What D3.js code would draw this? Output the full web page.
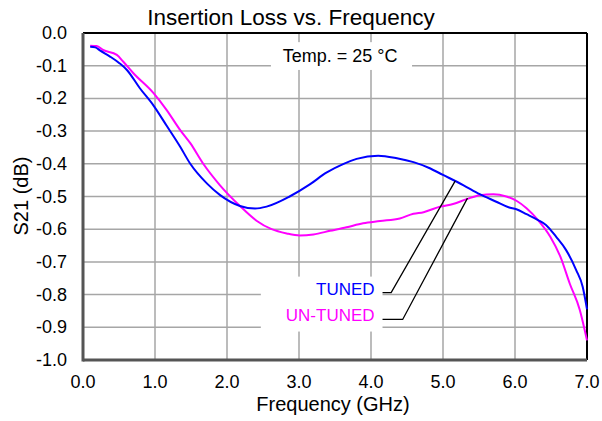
<!DOCTYPE html>
<html>
<head>
<meta charset="utf-8">
<script src="https://cdn.jsdelivr.net/npm/d3@7"></script>
<style>
  body { margin: 0; background: #fff; }
  svg { font-family: "Liberation Sans", Arial, sans-serif; }
</style>
</head>
<body>
<div id="chart"></div>
<script>
// Insertion loss (S21) against frequency

const tunedFreq = [0.1, 0.17, 0.24, 0.375, 0.51, 0.61, 0.79, 0.98, 1.16, 1.35, 1.49, 1.72, 1.9, 2.18, 2.39, 2.55, 2.87, 3.15, 3.38, 3.62, 3.8, 4.1, 4.36, 4.59, 4.8, 5.0, 5.28, 5.51, 5.74, 5.91, 6.02, 6.16, 6.32, 6.43, 6.57, 6.71, 6.85, 6.94, 7.0];
const tunedS21 = [-0.042, -0.044, -0.054, -0.072, -0.093, -0.113, -0.169, -0.222, -0.283, -0.348, -0.4, -0.46, -0.495, -0.529, -0.537, -0.531, -0.5, -0.463, -0.427, -0.4, -0.385, -0.375, -0.383, -0.395, -0.412, -0.434, -0.465, -0.493, -0.516, -0.533, -0.539, -0.554, -0.572, -0.587, -0.623, -0.664, -0.725, -0.776, -0.845];

const untunedFreq = [0.1, 0.19, 0.28, 0.47, 0.56, 0.7, 0.98, 1.16, 1.35, 1.49, 1.67, 1.9, 2.18, 2.41, 2.62, 2.83, 3.01, 3.2, 3.43, 3.66, 3.89, 4.125, 4.4, 4.59, 4.73, 4.96, 5.14, 5.33, 5.51, 5.7, 5.88, 6.02, 6.16, 6.32, 6.49, 6.63, 6.76, 6.9, 7.0];
const untunedS21 = [-0.039, -0.04, -0.052, -0.067, -0.088, -0.123, -0.184, -0.235, -0.297, -0.337, -0.4, -0.465, -0.529, -0.574, -0.6, -0.613, -0.619, -0.616, -0.605, -0.594, -0.582, -0.575, -0.567, -0.553, -0.548, -0.531, -0.523, -0.508, -0.496, -0.493, -0.5, -0.513, -0.536, -0.572, -0.623, -0.684, -0.766, -0.847, -0.94];

const xTicks = [0, 1, 2, 3, 4, 5, 6, 7];
const yTicks = [0, -0.1, -0.2, -0.3, -0.4, -0.5, -0.6, -0.7, -0.8, -0.9, -1.0];

// series labels: [text, colour, label x, label y, elbow x, elbow y, target x, target y] in data units
const seriesLabels = [
  ["TUNED", "#0000ff", 4.05, -0.8, 4.28, -0.794, 5.17, -0.452],
  ["UN-TUNED", "#ff00ff", 4.05, -0.88, 4.44, -0.876, 5.34, -0.505]
];

const W = 602, H = 421;
const margin = { top: 33, right: 15, bottom: 61, left: 83 };
const w = W - margin.left - margin.right;
const h = H - margin.top - margin.bottom;

const svg = d3.select("#chart").append("svg")
  .attr("width", W)
  .attr("height", H);

const g = svg.append("g").attr("transform", `translate(${margin.left},${margin.top})`);

const x = d3.scaleLinear().domain([0, 7]).range([0, w]);
const y = d3.scaleLinear().domain([-1, 0]).range([h, 0]);

// grid
g.append("g").selectAll("line").data(xTicks.slice(1, -1)).join("line")
  .attr("x1", d => x(d)).attr("x2", d => x(d))
  .attr("y1", 0).attr("y2", h)
  .attr("stroke", "#a6a6a6").attr("stroke-width", 1.5);
g.append("g").selectAll("line").data(yTicks.slice(1, -1)).join("line")
  .attr("x1", 0).attr("x2", w)
  .attr("y1", d => y(d)).attr("y2", d => y(d))
  .attr("stroke", "#a6a6a6").attr("stroke-width", 1.5);

// white boxes behind the text blocks
g.append("rect")
  .attr("x", x(2.61)).attr("y", y(-0.028))
  .attr("width", x(4.57) - x(2.61)).attr("height", y(-0.113) - y(-0.028))
  .attr("fill", "#fff");
g.append("rect")
  .attr("x", x(2.47)).attr("y", y(-0.745))
  .attr("width", x(4.16) - x(2.47)).attr("height", y(-0.913) - y(-0.745))
  .attr("fill", "#fff");

g.append("text")
  .attr("x", x(3.57)).attr("y", y(-0.089))
  .attr("text-anchor", "middle")
  .attr("font-size", 18)
  .text("Temp. = 25 °C");

// frame
g.append("line").attr("x1", 0).attr("x2", w).attr("y1", 0).attr("y2", 0)
  .attr("stroke", "#000").attr("stroke-width", 2);
g.append("line").attr("x1", w).attr("x2", w).attr("y1", 0).attr("y2", h)
  .attr("stroke", "#000").attr("stroke-width", 2);

// curves
const line = d3.line()
  .x(d => x(d[0]))
  .y(d => y(d[1]))
  .curve(d3.curveMonotoneX);

g.append("path")
  .datum(d3.zip(untunedFreq, untunedS21))
  .attr("d", line)
  .attr("fill", "none").attr("stroke", "#ff00ff").attr("stroke-width", 2);
g.append("path")
  .datum(d3.zip(tunedFreq, tunedS21))
  .attr("d", line)
  .attr("fill", "none").attr("stroke", "#0000ff").attr("stroke-width", 2);

// leader lines + labels
seriesLabels.forEach(s => {
  g.append("polyline")
    .attr("points", [[x(4.16), y(s[5])], [x(s[4]), y(s[5])], [x(s[6]), y(s[7])]].join(" "))
    .attr("fill", "none").attr("stroke", "#000").attr("stroke-width", 1.3);
  g.append("text")
    .attr("x", x(s[2])).attr("y", y(s[3]))
    .attr("text-anchor", "end")
    .attr("font-size", 17)
    .attr("fill", s[1])
    .text(s[0]);
});

// axes (left and bottom)
g.append("line").attr("x1", 0).attr("x2", w).attr("y1", h).attr("y2", h)
  .attr("stroke", "#555").attr("stroke-width", 3);
g.append("line").attr("x1", 0).attr("x2", 0).attr("y1", 0).attr("y2", h + 1.5)
  .attr("stroke", "#555").attr("stroke-width", 3);

g.append("g").selectAll("text").data(xTicks).join("text")
  .attr("x", d => x(d)).attr("y", h + 28)
  .attr("text-anchor", "middle")
  .attr("font-size", 18)
  .text(d => d.toFixed(1));

g.append("g").selectAll("text").data(yTicks).join("text")
  .attr("x", -16).attr("y", d => y(d) + 6)
  .attr("text-anchor", "end")
  .attr("font-size", 18)
  .text(d => d.toFixed(1));

// titles
svg.append("text")
  .attr("x", 291).attr("y", 25)
  .attr("text-anchor", "middle")
  .attr("font-size", 22.5)
  .text("Insertion Loss vs. Frequency");

svg.append("text")
  .attr("x", 333).attr("y", 411)
  .attr("text-anchor", "middle")
  .attr("font-size", 20)
  .text("Frequency (GHz)");

svg.append("text")
  .attr("transform", "translate(28,196) rotate(-90)")
  .attr("text-anchor", "middle")
  .attr("font-size", 20)
  .text("S21 (dB)");
</script>
</body>
</html>
